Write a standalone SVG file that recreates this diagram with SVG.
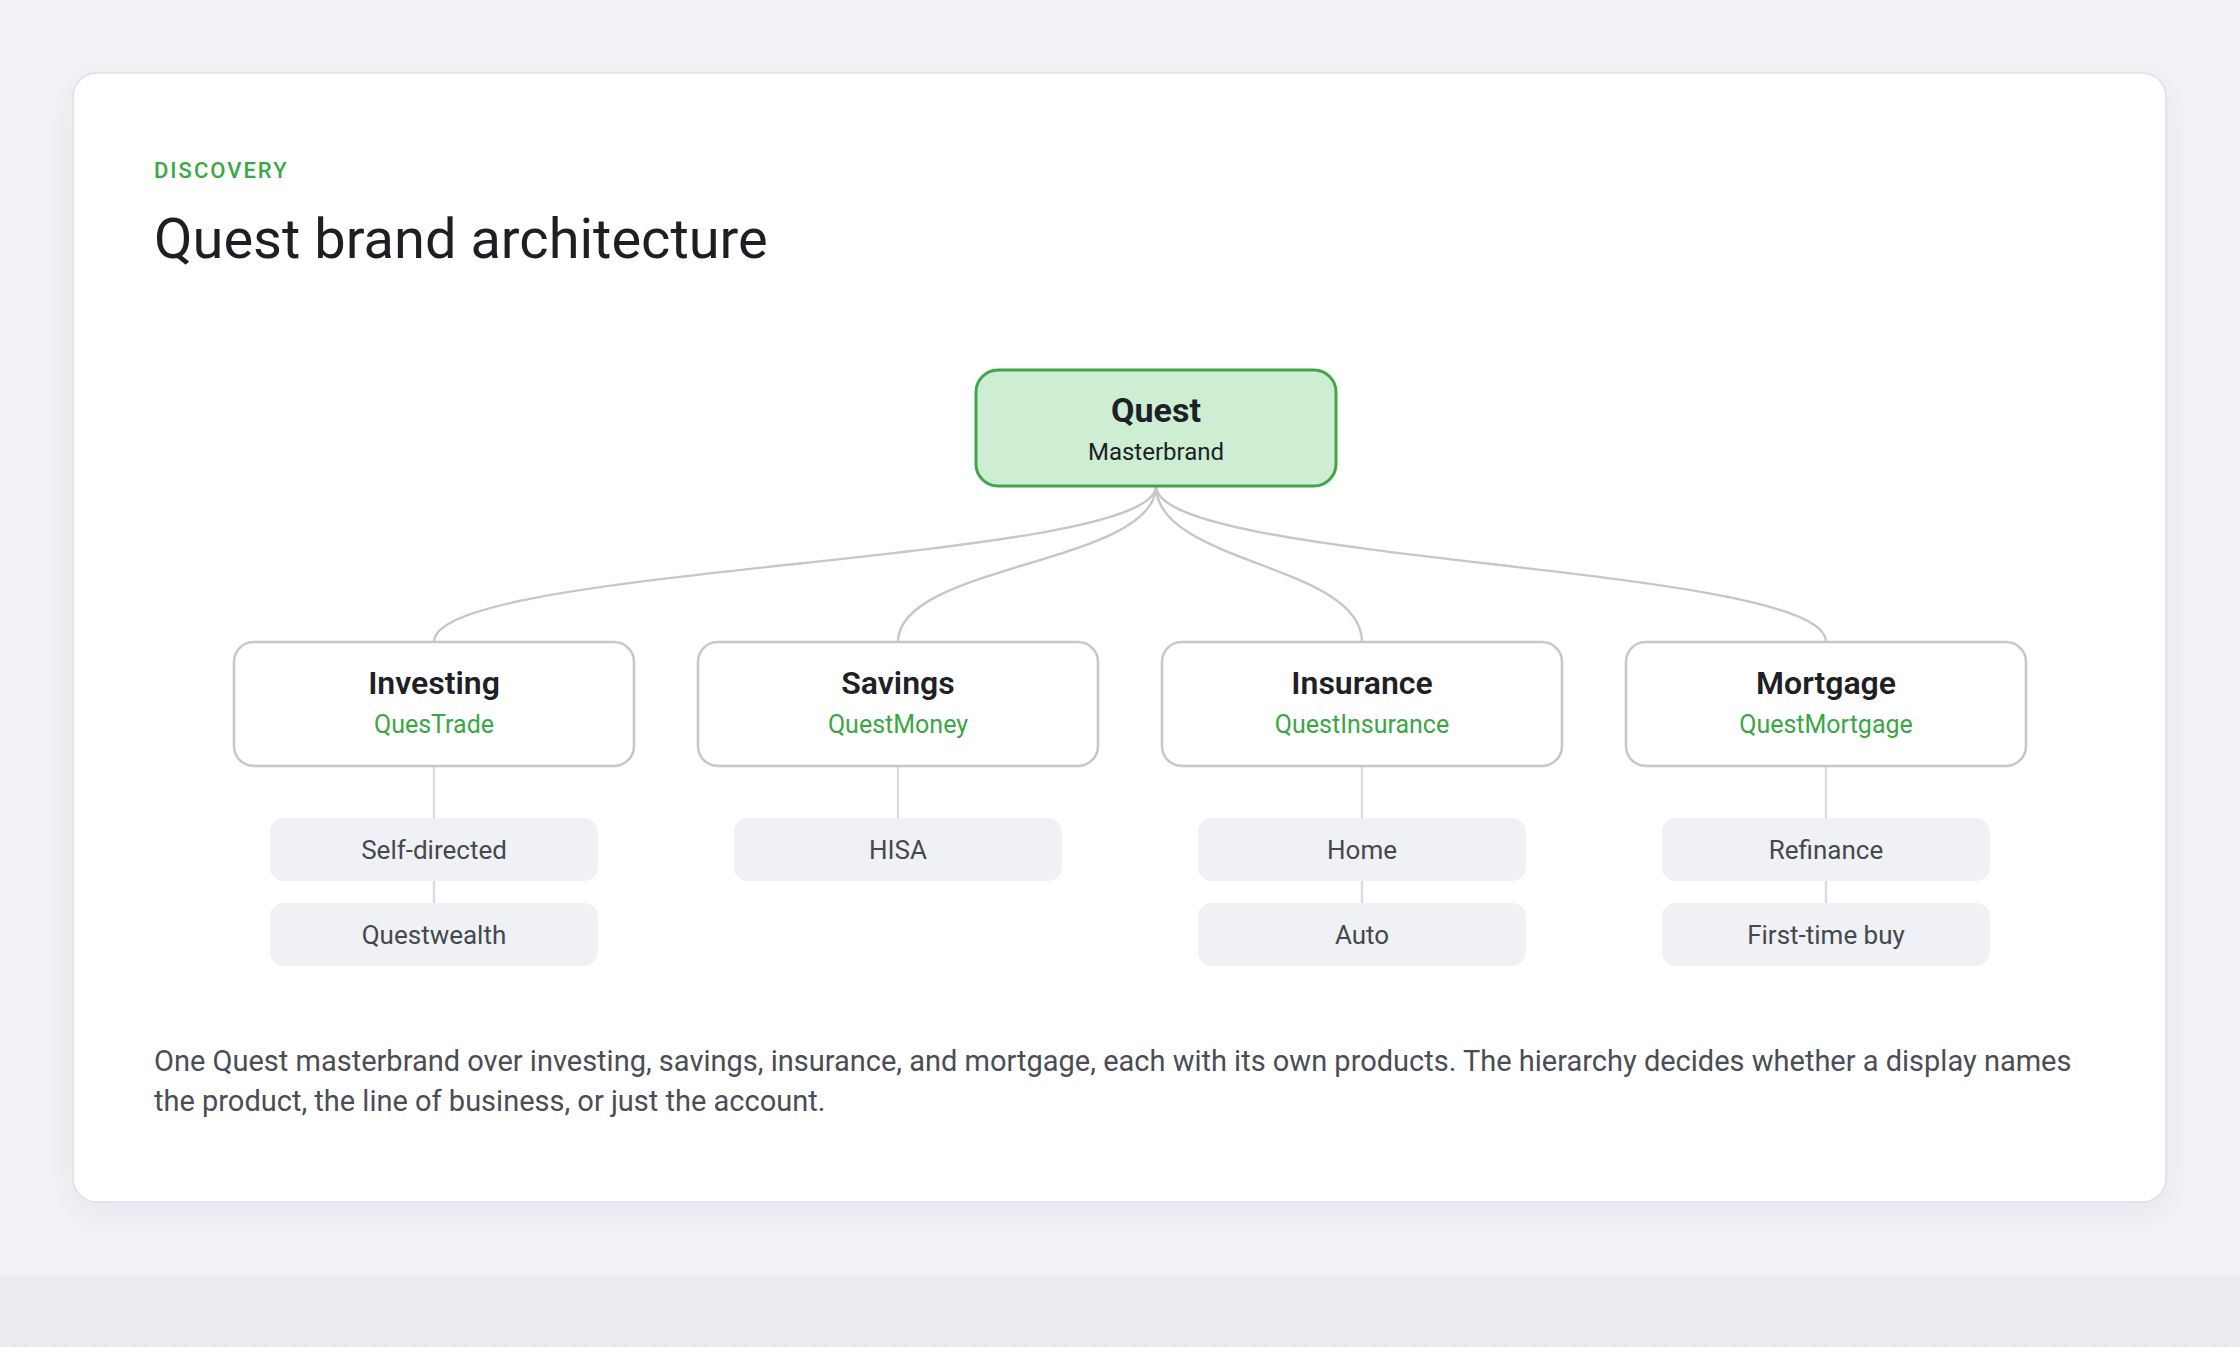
<svg xmlns="http://www.w3.org/2000/svg" width="2240" height="1347" viewBox="0 0 2240 1347">
  <defs>
    <style>
      .t { font-family: Roboto, "Liberation Sans", sans-serif; }
      .box { fill: #ffffff; stroke: #c6c8cd; stroke-width: 2.5; }
      .pill { fill: #f0f1f4; }
      .h { font-size: 32px; font-weight: 600; fill: #1d2125; text-anchor: middle; }
      .sub { font-size: 25px; fill: #3aa645; text-anchor: middle; }
      .pt { font-size: 26px; fill: #45484f; text-anchor: middle; }
      .edge { fill: none; stroke: #c5c7cc; stroke-width: 2.4; }
      .stem { fill: none; stroke: #d9dadf; stroke-width: 2.4; }
    </style>
    <pattern id="dots" width="10" height="10" patternUnits="userSpaceOnUse">
      <circle cx="5" cy="5" r="0.7" fill="#dcdde3"/>
    </pattern>
    <filter id="shadow" x="-10%" y="-10%" width="120%" height="125%">
      <feDropShadow dx="0" dy="10" stdDeviation="18" flood-color="#1a1f36" flood-opacity="0.06"/>
    </filter>
  </defs>

  <rect x="0" y="0" width="2240" height="1347" fill="#f2f3f7"/>
  <rect x="0" y="1276" width="2240" height="71" fill="#ebecf0"/>
  <rect x="0" y="1276" width="2240" height="71" fill="url(#dots)"/>

  <g id="card">
    <rect x="73" y="73" width="2093" height="1129" rx="24" fill="#ffffff" stroke="#dedfe4" stroke-width="1.5" filter="url(#shadow)"/>
    <text class="t" x="154" y="178" font-size="22" font-weight="500" letter-spacing="2" fill="#3aa845">DISCOVERY</text>
    <text class="t" x="154" y="258" font-size="56" fill="#1c1f23">Quest brand architecture</text>
    <text class="t" font-size="29" fill="#4a4d55">
      <tspan x="154" y="1071">One Quest masterbrand over investing, savings, insurance, and mortgage, each with its own products. The hierarchy decides whether a display names</tspan>
      <tspan x="154" y="1111">the product, the line of business, or just the account.</tspan>
    </text>
  </g>

  <g id="connectors">
    <path class="edge" d="M1156 486 C1156 564 434 564 434 642"/>
    <path class="edge" d="M1156 486 C1156 564 898 564 898 642"/>
    <path class="edge" d="M1156 486 C1156 564 1362 564 1362 642"/>
    <path class="edge" d="M1156 486 C1156 564 1826 564 1826 642"/>
    <path class="stem" d="M434 766 V818 M434 881 V903"/>
    <path class="stem" d="M898 766 V818"/>
    <path class="stem" d="M1362 766 V818 M1362 881 V903"/>
    <path class="stem" d="M1826 766 V818 M1826 881 V903"/>
  </g>

  <g id="quest">
    <rect x="976" y="370" width="360" height="116" rx="22" fill="#cdeed3" stroke="#40a54b" stroke-width="3"/>
    <text class="t" x="1156" y="422" font-size="34" font-weight="700" fill="#1d2125" text-anchor="middle">Quest</text>
    <text class="t" x="1156" y="460" font-size="24" fill="#1d2125" text-anchor="middle">Masterbrand</text>
  </g>

  <g id="investing">
    <rect class="box" x="234" y="642" width="400" height="124" rx="20"/>
    <text class="t h" x="434" y="694">Investing</text>
    <text class="t sub" x="434" y="733">QuesTrade</text>
  </g>
  <g id="savings">
    <rect class="box" x="698" y="642" width="400" height="124" rx="20"/>
    <text class="t h" x="898" y="694">Savings</text>
    <text class="t sub" x="898" y="733">QuestMoney</text>
  </g>
  <g id="insurance">
    <rect class="box" x="1162" y="642" width="400" height="124" rx="20"/>
    <text class="t h" x="1362" y="694">Insurance</text>
    <text class="t sub" x="1362" y="733">QuestInsurance</text>
  </g>
  <g id="mortgage">
    <rect class="box" x="1626" y="642" width="400" height="124" rx="20"/>
    <text class="t h" x="1826" y="694">Mortgage</text>
    <text class="t sub" x="1826" y="733">QuestMortgage</text>
  </g>

  <g id="self-directed">
    <rect class="pill" x="270" y="818" width="328" height="63" rx="14"/>
    <text class="t pt" x="434" y="859">Self-directed</text>
  </g>
  <g id="questwealth">
    <rect class="pill" x="270" y="903" width="328" height="63" rx="14"/>
    <text class="t pt" x="434" y="944">Questwealth</text>
  </g>
  <g id="hisa">
    <rect class="pill" x="734" y="818" width="328" height="63" rx="14"/>
    <text class="t pt" x="898" y="859">HISA</text>
  </g>
  <g id="home">
    <rect class="pill" x="1198" y="818" width="328" height="63" rx="14"/>
    <text class="t pt" x="1362" y="859">Home</text>
  </g>
  <g id="auto">
    <rect class="pill" x="1198" y="903" width="328" height="63" rx="14"/>
    <text class="t pt" x="1362" y="944">Auto</text>
  </g>
  <g id="refinance">
    <rect class="pill" x="1662" y="818" width="328" height="63" rx="14"/>
    <text class="t pt" x="1826" y="859">Refinance</text>
  </g>
  <g id="first-time-buy">
    <rect class="pill" x="1662" y="903" width="328" height="63" rx="14"/>
    <text class="t pt" x="1826" y="944">First-time buy</text>
  </g>
</svg>
